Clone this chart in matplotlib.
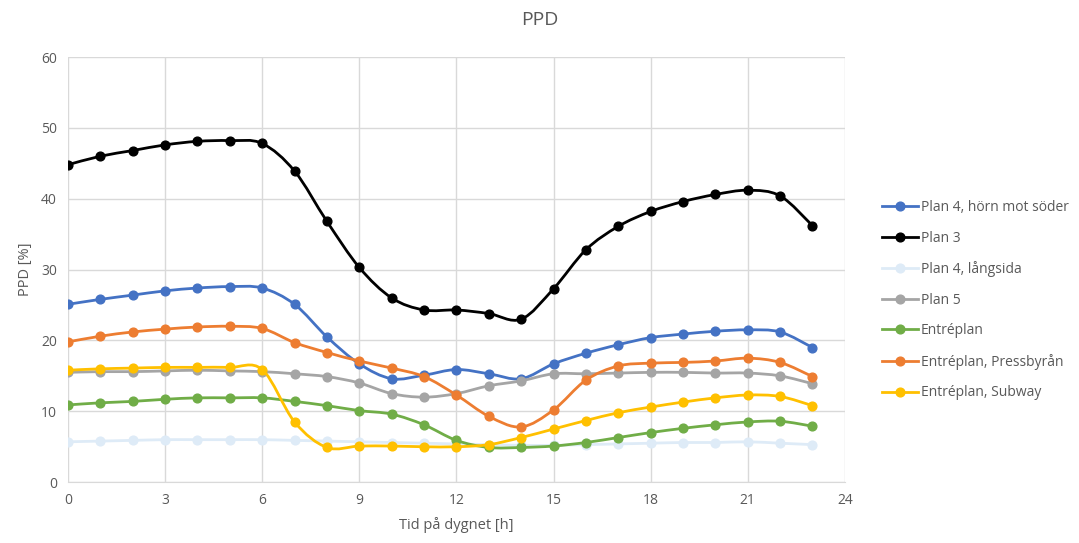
import matplotlib
matplotlib.use("Agg")
import matplotlib.pyplot as plt
import numpy as np
from matplotlib.path import Path
from matplotlib.patches import PathPatch
from matplotlib.lines import Line2D

hours = list(range(24))

plan4_horn = [25.1, 25.8, 26.4, 27.0, 27.4, 27.6, 27.4, 25.1, 20.5, 16.7, 14.6, 15.1,
              15.9, 15.3, 14.6, 16.7, 18.2, 19.4, 20.4, 20.9, 21.3, 21.5, 21.2, 19.0]
plan3 = [44.8, 46.0, 46.8, 47.6, 48.1, 48.2, 47.8, 43.9, 36.8, 30.3, 26.0, 24.3,
         24.3, 23.8, 23.0, 27.3, 32.8, 36.1, 38.2, 39.6, 40.6, 41.2, 40.4, 36.2]
plan4_lang = [5.7, 5.8, 5.9, 6.0, 6.0, 6.0, 6.0, 5.9, 5.8, 5.7, 5.6, 5.5,
              5.4, 5.3, 5.2, 5.2, 5.3, 5.4, 5.5, 5.6, 5.6, 5.7, 5.5, 5.3]
plan5 = [15.5, 15.6, 15.6, 15.7, 15.8, 15.7, 15.6, 15.3, 14.9, 14.0, 12.5, 12.0,
         12.5, 13.6, 14.3, 15.3, 15.3, 15.4, 15.5, 15.5, 15.4, 15.4, 15.0, 13.9]
entreplan = [10.9, 11.2, 11.4, 11.7, 11.9, 11.9, 11.9, 11.4, 10.8, 10.1, 9.6, 8.1,
             5.9, 4.9, 4.9, 5.1, 5.6, 6.3, 7.0, 7.6, 8.1, 8.5, 8.6, 7.9]
pressbyran = [19.8, 20.6, 21.2, 21.6, 21.9, 22.0, 21.7, 19.7, 18.3, 17.1, 16.1, 14.9,
              12.3, 9.3, 7.8, 10.2, 14.4, 16.4, 16.8, 16.9, 17.1, 17.5, 16.9, 14.9]
subway = [15.8, 16.0, 16.1, 16.2, 16.2, 16.2, 15.9, 8.5, 4.9, 5.1, 5.1, 5.0,
          5.0, 5.3, 6.3, 7.5, 8.7, 9.8, 10.6, 11.3, 11.9, 12.3, 12.1, 10.8]

series = [
    ("Plan 4, hörn mot söder", plan4_horn, "#4472C4"),
    ("Plan 3", plan3, "#000000"),
    ("Plan 4, långsida", plan4_lang, "#DEEBF7"),
    ("Plan 5", plan5, "#A5A5A5"),
    ("Entréplan", entreplan, "#70AD47"),
    ("Entréplan, Pressbyrån", pressbyran, "#ED7D31"),
    ("Entréplan, Subway", subway, "#FFC000"),
]

TXT = "#595959"
plt.rcParams["font.family"] = ["Open Sans", "DejaVu Sans"]


def smooth_path(x, y):
    # Excel-style smoothed line: cubic Bezier segments through the points
    x = np.asarray(x, float)
    y = np.asarray(y, float)
    n = len(x)
    verts = [(x[0], y[0])]
    codes = [Path.MOVETO]
    for i in range(n - 1):
        x0, y0 = (x[i - 1], y[i - 1]) if i > 0 else (x[i], y[i])
        x3, y3 = (x[i + 2], y[i + 2]) if i + 2 < n else (x[i + 1], y[i + 1])
        c1 = (x[i] + (x[i + 1] - x0) / 6, y[i] + (y[i + 1] - y0) / 6)
        c2 = (x[i + 1] - (x3 - x[i]) / 6, y[i + 1] - (y3 - y[i]) / 6)
        verts += [c1, c2, (x[i + 1], y[i + 1])]
        codes += [Path.CURVE4] * 3
    return Path(verts, codes)


fig = plt.figure(figsize=(10.79, 5.43), dpi=100)
ax = fig.add_axes([0.063, 0.112, 0.720, 0.783])

handles = []
for z, (name, vals, col) in enumerate(series):
    patch = PathPatch(smooth_path(hours, vals), facecolor="none", edgecolor=col,
                      lw=2.0, zorder=3 + z, capstyle="round", joinstyle="round")
    ax.add_patch(patch)
    ax.plot(hours, vals, ls="none", marker="o", ms=6.3, color=col, zorder=3 + z)
    handles.append(Line2D([], [], color=col, lw=2.0, marker="o", ms=6.3))

ax.set_xlim(0, 24)
ax.set_ylim(0, 60)
ax.set_xticks(range(0, 25, 3))
ax.set_yticks(range(0, 61, 10))
ax.grid(True, color="#D9D9D9", lw=1.0, zorder=0)
ax.set_axisbelow(True)
for s in ("top", "right", "left"):
    ax.spines[s].set_visible(False)
ax.spines["bottom"].set_color("#D9D9D9")
ax.tick_params(length=0, colors=TXT, labelsize=10, pad=8)
ax.set_xlabel("Tid på dygnet [h]", color=TXT, fontsize=10.5, labelpad=6)
ax.set_ylabel("PPD [%]", color=TXT, fontsize=10.5, labelpad=6)
fig.suptitle("PPD", color=TXT, fontsize=14, y=0.98)

leg = fig.legend(handles, [s[0] for s in series], loc="center left",
                 bbox_to_anchor=(0.806, 0.447), frameon=False, fontsize=10,
                 labelspacing=1.12, handlelength=2.6, handletextpad=0.2)
for t in leg.get_texts():
    t.set_color(TXT)

fig.savefig("out.png", dpi=100)
